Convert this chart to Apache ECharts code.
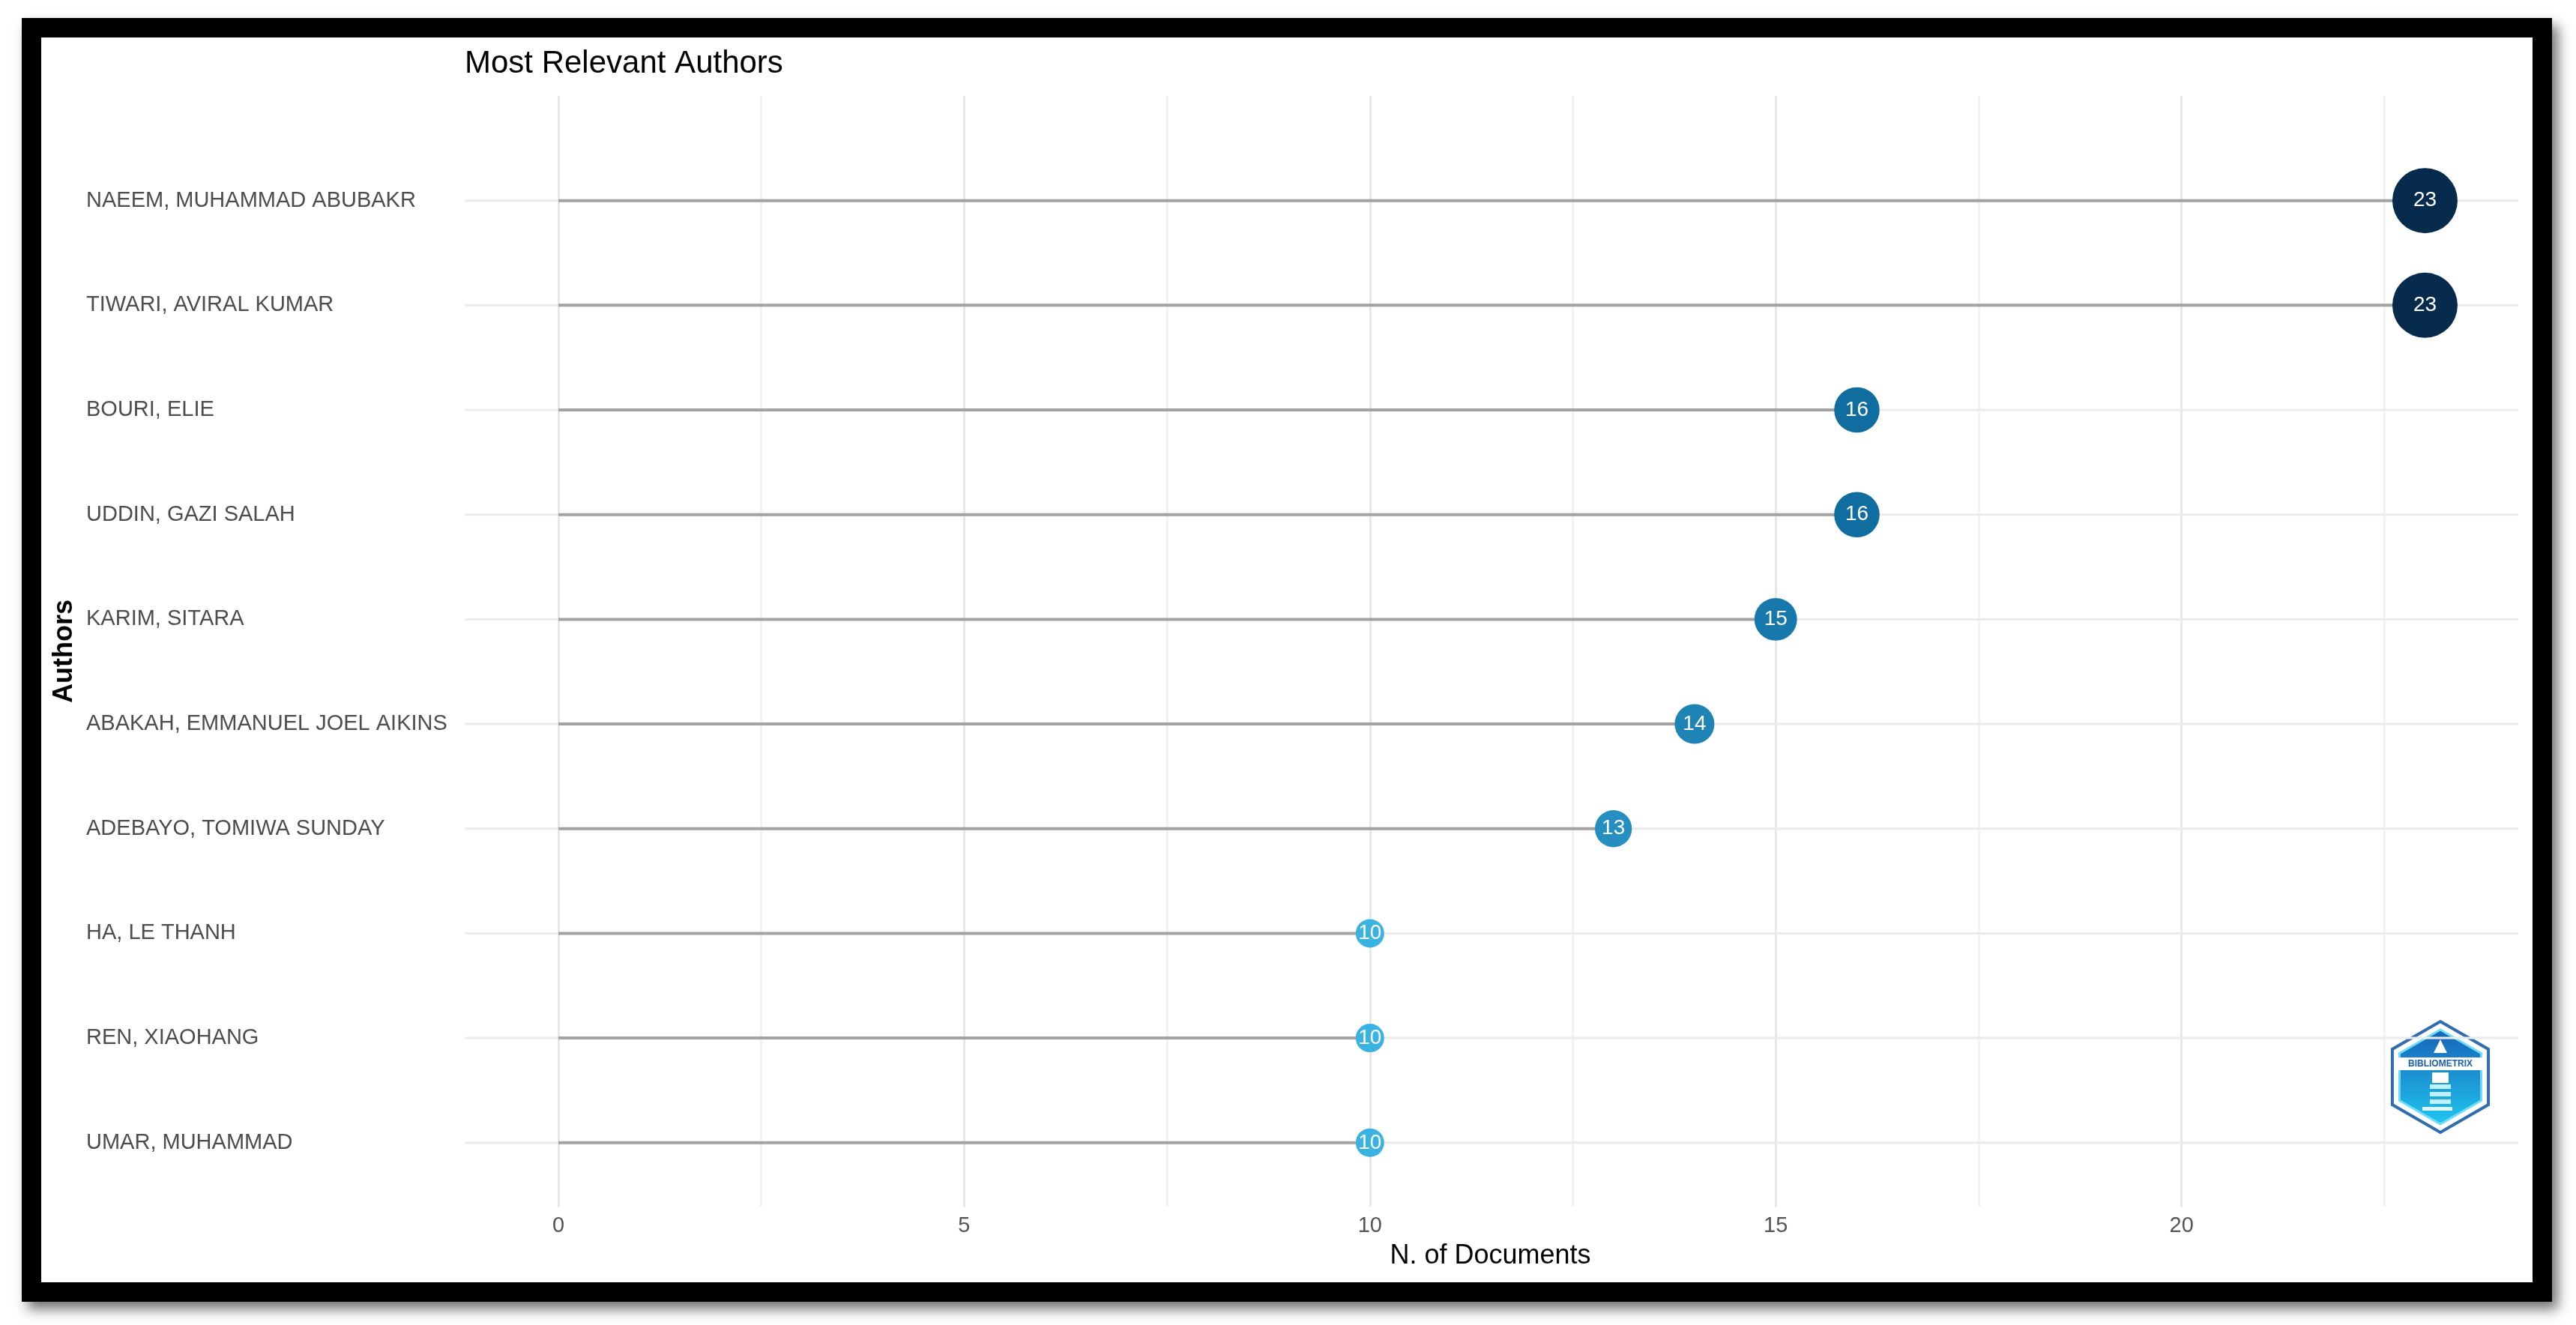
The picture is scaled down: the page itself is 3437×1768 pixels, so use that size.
<!DOCTYPE html>
<html>
<head>
<meta charset="utf-8">
<title>Most Relevant Authors</title>
<script src="https://cdn.jsdelivr.net/npm/echarts@6/dist/echarts.min.js"></script>
<style>
  html, body { margin: 0; padding: 0; background: #fff; }
  body { width: 3437px; height: 1768px; position: relative; overflow: hidden; }
  .frame {
    position: absolute; left: 29px; top: 24px;
    width: 3376px; height: 1713px; box-sizing: border-box;
    border: 26px solid #000; background: #fff;
    box-shadow: 8px 10px 16px rgba(0, 0, 0, 0.55);
  }
  #chart { position: absolute; left: 0; top: 0; width: 3437px; height: 1768px; }
</style>
</head>
<body>
<div class="frame"></div>
<div id="chart"></div>
<script>
// data
const authors = [
  'NAEEM, MUHAMMAD ABUBAKR',
  'TIWARI, AVIRAL KUMAR',
  'BOURI, ELIE',
  'UDDIN, GAZI SALAH',
  'KARIM, SITARA',
  'ABAKAH, EMMANUEL JOEL AIKINS',
  'ADEBAYO, TOMIWA SUNDAY',
  'HA, LE THANH',
  'REN, XIAOHANG',
  'UMAR, MUHAMMAD'
]
const documents = [23, 23, 16, 16, 15, 14, 13, 10, 10, 10]
const xTicks = [0, 5, 10, 15, 20]

// panel range on the x scale (ggplot adds 5% each side)
const panelLeft = -1.15
const panelRight = 24.15

const font = "'Liberation Sans', Arial, Helvetica, sans-serif"
const points = documents.map((v, i) => [v, i])

// bibliometrix badge, bottom right
const hex = (r) => {
  const pts = []
  for (let k = 0; k < 6; k++) {
    const a = (-90 + 60 * k) * Math.PI / 180
    pts.push([r * Math.cos(a), r * Math.sin(a)])
  }
  return pts
}
const logo = {
  type: 'group',
  x: 3256,
  y: 1437,
  z: 10,
  silent: true,
  children: [
    { type: 'polygon', shape: { points: hex(74) }, style: { fill: 'none', stroke: '#2f6db0', lineWidth: 4 } },
    {
      type: 'polygon', shape: { points: hex(63) },
      style: {
        stroke: '#6fdcf6', lineWidth: 3,
        fill: new echarts.graphic.LinearGradient(0, 0, 0, 1, [
          { offset: 0, color: '#1762b6' },
          { offset: 1, color: '#20c6ef' }
        ])
      }
    },
    { type: 'polygon', shape: { points: [[0, -50], [-9, -32], [9, -32]] }, style: { fill: '#ffffff' } },
    { type: 'rect', shape: { x: -60, y: -26, width: 120, height: 17 }, style: { fill: '#ffffff' } },
    {
      type: 'text',
      style: {
        text: 'BIBLIOMETRIX', x: 0, y: -17.5, align: 'center', verticalAlign: 'middle',
        fontSize: 12, fontWeight: 'bold', fontFamily: font, fill: '#1d5fa8'
      }
    },
    { type: 'rect', shape: { x: -11, y: -6, width: 22, height: 14 }, style: { fill: '#ffffff' } },
    { type: 'rect', shape: { x: -14, y: 10, width: 28, height: 6 }, style: { fill: '#bff0fc' } },
    { type: 'rect', shape: { x: -14, y: 20, width: 28, height: 6 }, style: { fill: '#bff0fc' } },
    { type: 'rect', shape: { x: -14, y: 30, width: 28, height: 6 }, style: { fill: '#bff0fc' } },
    { type: 'rect', shape: { x: -24, y: 40, width: 40, height: 5 }, style: { fill: '#dff8ff' } }
  ]
}

const chart = echarts.init(document.getElementById('chart'))

chart.setOption({
  animation: false,
  textStyle: { fontFamily: font },
  title: {
    text: 'Most Relevant Authors',
    left: 620,
    top: 64,
    padding: 0,
    textStyle: { fontSize: 42, fontWeight: 'normal', color: '#000', fontFamily: font }
  },
  grid: { left: 745, right: 77, top: 128, bottom: 158 },
  xAxis: {
    type: 'value',
    min: 0,
    max: panelRight,
    interval: 2.5,
    axisLine: { show: false },
    axisTick: { show: false },
    axisLabel: {
      formatter: (v) => (xTicks.includes(v) ? String(v) : ''),
      color: '#555',
      fontSize: 29,
      margin: 11
    },
    splitLine: {
      show: true,
      showMaxLine: false,
      lineStyle: { color: ['#e8e8e8', '#f2f2f2'], width: 3 }
    },
    name: 'N. of Documents',
    nameLocation: 'middle',
    nameGap: 48,
    nameTextStyle: { fontSize: 36, color: '#000', padding: [0, 128, 0, 0] }
  },
  yAxis: {
    type: 'value',
    inverse: true,
    min: -1,
    max: 9.61,
    interval: 1,
    axisLine: { show: false },
    axisTick: { show: false },
    splitLine: { show: false },
    axisLabel: {
      formatter: (v) => authors[v] || '',
      align: 'left',
      margin: 630,
      color: '#4d4d4d',
      fontSize: 29
    },
    name: 'Authors',
    nameLocation: 'middle',
    nameRotate: 90,
    nameGap: 636,
    nameTextStyle: { fontSize: 36, color: '#000', fontWeight: 'bold' }
  },
  visualMap: {
    show: false,
    type: 'continuous',
    min: 10,
    max: 23,
    dimension: 0,
    seriesIndex: 1,
    inRange: { color: ['#3ab2e2', '#0c679a', '#072b4c'] }
  },
  series: [
    {
      // row gridline + lollipop stem
      type: 'custom',
      clip: false,
      silent: true,
      data: points,
      encode: { x: 0, y: 1 },
      renderItem: (params, api) => {
        const row = api.value(1)
        const a = api.coord([panelLeft, row])
        const b = api.coord([panelRight, row])
        const zero = api.coord([0, row])
        const tip = api.coord([api.value(0), row])
        return {
          type: 'group',
          children: [
            { type: 'line', shape: { x1: a[0], y1: a[1], x2: b[0], y2: b[1] }, style: { stroke: '#ebebeb', lineWidth: 3 } },
            { type: 'line', shape: { x1: zero[0], y1: zero[1], x2: tip[0], y2: tip[1] }, style: { stroke: '#a3a3a3', lineWidth: 4 } }
          ]
        }
      }
    },
    {
      type: 'scatter',
      data: points,
      z: 3,
      symbolSize: (d) => 38 + (d[0] - 10) * 3.77,
      itemStyle: { opacity: 1 },
      label: {
        show: true,
        position: 'inside',
        formatter: (p) => p.value[0],
        color: '#ffffff',
        fontSize: 28
      }
    }
  ],
  graphic: [logo]
})
</script>
</body>
</html>
